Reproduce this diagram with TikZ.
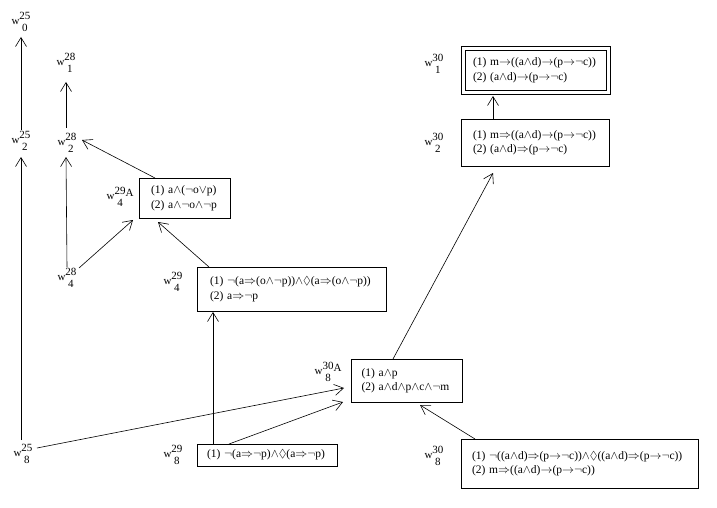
\documentclass[tikz,border=0pt]{standalone}
\usepackage{amssymb}
\usepackage{fontspec}
\setmainfont{Liberation Serif}
\usetikzlibrary{arrows.meta,calc}
\newcommand\AND{\ensuremath{{\wedge}}}
\newcommand\OR{\ensuremath{{\vee}}}
\newcommand\NOT{\ensuremath{{\neg}}}
\newcommand\IMP{\ensuremath{{\Rightarrow}}}
\newcommand\TO{\ensuremath{{\rightarrow}}}
\newcommand\DIA{\ensuremath{{\Diamond}}}
\newcommand\wlab[2]{w\setbox0\hbox{#1}\setbox2\hbox{#2}%
  \dimen0=\ifdim\wd0>\wd2 \wd0\else\wd2\fi
  \rlap{\hbox to\dimen0{\hss\raisebox{5pt}{\box0}\hss}}%
  \hbox to\dimen0{\hss\raisebox{-7pt}{\box2}\hss}}
\begin{document}
\begin{tikzpicture}[x=1pt,y=-1pt,
  font=\fontsize{11.5}{14.5}\selectfont,
  lab/.style={inner sep=0pt, font=\fontsize{11}{12}\selectfont},
  box/.style={draw, line width=0.7pt, outer sep=0pt, align=left, inner ysep=0pt, rectangle},
  arr/.style={line width=0.6pt, -{Straight Barb[length=9pt,width=11pt]}},
  ln/.style={line width=0.6pt}]
\useasboundingbox (0,0) rectangle (717,508);
% labels
\node[lab] (w0_25) at (21,22) {\wlab{25}{0}};
\node[lab] (w1_28) at (66,63) {\wlab{28}{1}};
\node[lab] (w2_25) at (21,141) {\wlab{25}{2}};
\node[lab] (w2_28) at (67,143) {\wlab{28}{2}};
\node[lab] (w4_28) at (67,278) {\wlab{28}{4}};
\node[lab] (w4_29A) at (120,197) {\wlab{29}{4}\raisebox{3pt}{A}};
\node[lab] (w4_29) at (173,282) {\wlab{29}{4}};
\node[lab] (w8_25) at (23,454) {\wlab{25}{8}};
\node[lab] (w8_29) at (173,455) {\wlab{29}{8}};
\node[lab] (w8_30A) at (328,372) {\wlab{30}{8}\raisebox{3pt}{A}};
\node[lab] (w8_30) at (434,456) {\wlab{30}{8}};
\node[lab] (w2_30) at (434,143) {\wlab{30}{2}};
\node[lab] (w1_30) at (434,64) {\wlab{30}{1}};
% boxes
\node[box, inner xsep=12pt, text width=67pt, minimum height=40pt] (b4A) at (184.5,198)
  {(1) a\AND(\NOT o\OR p)\\(2) a\AND\NOT o\AND\NOT p};
\node[box, inner xsep=13pt, text width=163pt, minimum height=44pt] (b4) at (291.5,289)
  {(1) \NOT(a\IMP(o\AND\NOT p))\AND\DIA(a\IMP(o\AND\NOT p))\\(2) a\IMP\NOT p};
\node[box, inner xsep=10pt, text width=120pt, minimum height=22pt] (b8_29) at (267,455)
  {(1) \NOT(a\IMP\NOT p)\AND\DIA(a\IMP\NOT p)};
\node[box, inner xsep=10.5pt, text width=90pt, minimum height=43pt] (b8A) at (406.5,380.5)
  {(1) a\AND p\\(2) a\AND d\AND p\AND c\AND\NOT m};
\node[box, inner xsep=11pt, text width=215pt, minimum height=49pt] (b8_30) at (579.5,463.5)
  {(1) \NOT((a\AND d)\IMP(p\TO\NOT c))\AND\DIA((a\AND d)\IMP(p\TO\NOT c))\\(2) m\IMP((a\AND d)\TO(p\TO\NOT c))};
\node[box, inner xsep=12pt, text width=124pt, minimum height=47pt] (b2_30) at (535,142.5)
  {(1) m\IMP((a\AND d)\TO(p\TO\NOT c))\\(2) (a\AND d)\IMP(p\TO\NOT c)};
\node[box, inner xsep=8pt, text width=125pt, minimum height=40pt] (b1_30) at (535.5,70)
  {(1) m\TO((a\AND d)\TO(p\TO\NOT c))\\(2) (a\AND d)\TO(p\TO\NOT c)};
\draw[line width=0.7pt] ($(b1_30.north west)+(-4,-4)$) rectangle ($(b1_30.south east)+(4,4)$);
% connectors
\draw[arr] ($(w2_25.center)+(0,-11)$) -- ($(w0_25.center)+(0,15)$);
\draw[arr] ($(w2_28.center)+(-1,-15)$) -- ($(w1_28.center)+(0,19)$);
\draw[arr] ($(w8_25.center)+(-2,-14)$) -- ($(w2_25.center)+(0,16)$);
\draw[arr] ($(w4_28.center)+(0,-11)$) -- ($(w2_28.center)+(-1,14)$);
\draw[arr] ($(b4A.north west)+(16,0)$) -- ($(w2_28.center)+(15,-3)$);
\draw[arr] ($(w4_28.center)+(12,-10)$) -- ($(b4A.south west)+(-6,2)$);
\draw[arr] ($(b4.north west)+(12,0)$) -- ($(b4A.south west)+(19,4)$);
\draw[arr] ($(b8_29.north west)+(16,0)$) -- ($(b4.south west)+(16,1)$);
\draw[arr] ($(w8_25.center)+(14,-6)$) -- ($(b8A.south west)+(-7,-14)$);
\draw[arr] ($(b8_29.north west)+(32,0)$) -- ($(b8A.south west)+(-8,0)$);
\draw[arr] ($(b8A.north west)+(42,0)$) -- ($(b2_30.south west)+(32,7)$);
\draw[arr] ($(b8_30.north west)+(14,0)$) -- ($(b8A.south west)+(69,3)$);
\draw[arr] ($(b2_30.north west)+(32,0)$) -- ($(b1_30.south west)+(28,6)$);
\end{tikzpicture}
\end{document}
